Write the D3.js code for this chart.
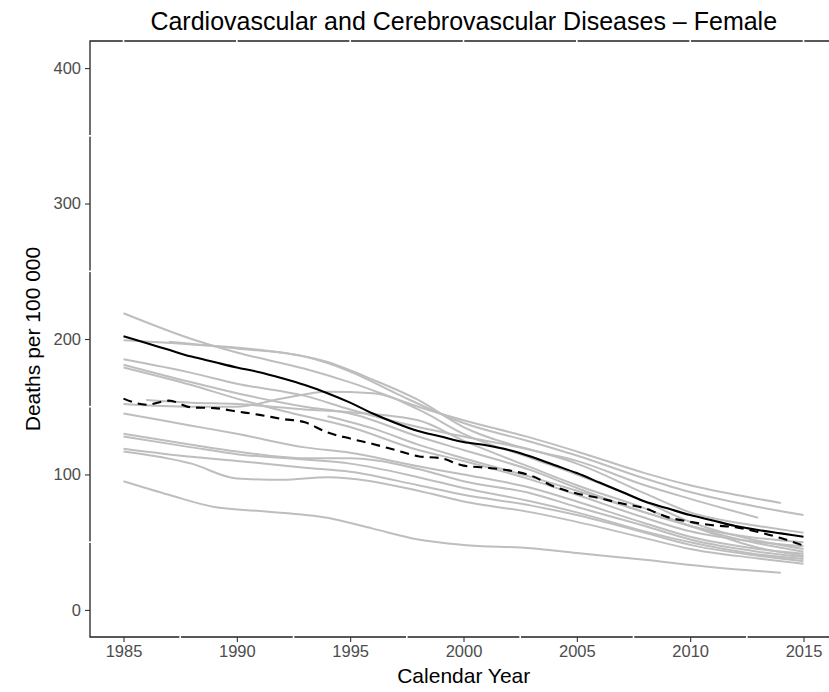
<!DOCTYPE html>
<html lang="en">
<head>
    <meta charset="UTF-8">
    <title>Cardiovascular and Cerebrovascular Diseases - Female</title>
    <script src="https://cdnjs.cloudflare.com/ajax/libs/d3/7.8.5/d3.min.js"></script>
    <style>
        body {
            margin: 0;
            background: white;
            font-family: 'Liberation Sans', Arial, Helvetica, sans-serif;
        }
        .tick text {
            font-size: 16.5px;
            fill: #4d4d4d;
        }
        .tick line {
            stroke: #333;
            stroke-width: 1.1px;
        }
        .grey-line {
            fill: none;
            stroke: #bebebe;
            stroke-width: 2px;
        }
    </style>
</head>
<body>
    <div id="chart"></div>

    <script>
        // one array per country: [year, deaths per 100 000]
        const line01 = [[1985, 219], [1988, 200], [1990, 190], [1993, 178], [1995, 168], [1998, 150], [2000, 140], [2003, 127], [2005, 117], [2008, 101], [2010, 92], [2012, 85], [2014, 79]];
        const line02 = [[1987, 198], [1990, 193], [1993, 187], [1995, 176], [1997, 160], [2000, 138], [2003, 124], [2005, 114], [2008, 97], [2010, 87], [2013, 76], [2015, 70]];
        const line03 = [[1985, 199], [1988, 196], [1991, 192], [1994, 183], [1996, 170], [1998, 155], [2000, 135], [2003, 118], [2005, 110], [2008, 92], [2010, 82], [2013, 68]];
        const line04 = [[1985, 185], [1988, 175], [1990, 167], [1993, 158], [1995, 148], [1998, 135], [2000, 128], [2003, 118], [2005, 108], [2008, 86], [2010, 72], [2013, 62], [2015, 57]];
        const line05 = [[1985, 181], [1988, 168], [1990, 160], [1993, 150], [1995, 145], [1998, 128], [2000, 118], [2003, 103], [2005, 90], [2008, 72], [2010, 62], [2013, 53], [2015, 50]];
        const line06 = [[1985, 179], [1988, 166], [1990, 156], [1992, 147], [1995, 135], [1998, 118], [2000, 110], [2003, 96], [2005, 85], [2008, 68], [2010, 58], [2013, 50], [2015, 47]];
        const line07 = [[1985, 152], [1988, 150], [1990, 150], [1992, 156], [1994, 161], [1996, 160], [1998, 148], [2000, 130], [2003, 112], [2005, 100], [2008, 80], [2010, 65], [2013, 51], [2015, 45]];
        const line08 = [[1986, 155], [1988, 153], [1990, 152], [1993, 148], [1995, 146], [1998, 140], [2000, 125], [2003, 105], [2005, 92], [2008, 75], [2010, 62], [2013, 49], [2015, 43]];
        const line09 = [[1985, 145], [1988, 136], [1990, 130], [1993, 120], [1995, 116], [1998, 106], [2000, 100], [2003, 90], [2005, 80], [2008, 64], [2010, 54], [2013, 45], [2015, 41.5]];
        const line10 = [[1994, 143], [1996, 134], [1998, 122], [2000, 112], [2003, 98], [2005, 88], [2008, 72], [2010, 62], [2013, 46], [2015, 40]];
        const line11 = [[1985, 130], [1988, 122], [1990, 117], [1993, 112], [1995, 112], [1998, 104], [2000, 95], [2003, 86], [2005, 76], [2008, 62], [2010, 52], [2013, 43], [2015, 39]];
        const line12 = [[1985, 128], [1988, 120], [1990, 115], [1993, 111], [1995, 108], [1998, 98], [2000, 90], [2003, 80], [2005, 72], [2008, 58], [2010, 50], [2013, 41], [2015, 37.5]];
        const line13 = [[1985, 119], [1988, 113], [1990, 110], [1993, 105], [1995, 102], [1998, 92], [2000, 85], [2003, 77], [2005, 70], [2008, 57], [2010, 48], [2013, 40], [2015, 36]];
        const line14 = [[1985, 117], [1988, 108], [1990, 97], [1992, 96], [1994, 98], [1998, 88], [2000, 80], [2003, 72], [2005, 65], [2008, 53], [2010, 45], [2013, 38], [2015, 34]];
        const line15 = [[1985, 95], [1987, 85], [1989, 76], [1991, 73], [1994, 68], [1996, 60], [1998, 52], [2000, 48], [2003, 45.5], [2005, 42], [2008, 37], [2011, 31.5], [2014, 27.5]];
        const greyLines = [line01, line02, line03, line04, line05, line06, line07, line08, line09, line10, line11, line12, line13, line14, line15];

        const years = [1985, 1986, 1987, 1988, 1989, 1990, 1991, 1992, 1993, 1994, 1995, 1996, 1997, 1998, 1999, 2000,
                       2001, 2002, 2003, 2004, 2005, 2006, 2007, 2008, 2009, 2010, 2011, 2012, 2013, 2014, 2015];
        const solidValues = [202, 197, 192, 187, 183, 179, 175.5, 171, 166, 160, 153, 145, 138, 132, 128, 124,
                             121.5, 118, 113, 107, 101, 94, 87, 80, 75, 70, 66, 62, 59, 56.5, 54];
        const dashedValues = [156, 151.5, 154.5, 149.5, 149, 146.5, 144, 141, 138.5, 131, 126.5, 122.5, 118, 113.5, 112, 106.5,
                              105, 103, 99, 91, 86, 82.5, 78.5, 75, 68.5, 65, 62.5, 61, 57.5, 53, 47.5];

        const xTicks = [1985, 1990, 1995, 2000, 2005, 2010, 2015];
        const yTicks = [0, 100, 200, 300, 400];
        const xMinor = [1987.5, 1992.5, 1997.5, 2002.5, 2007.5, 2012.5];
        const yMinor = [50, 150, 250, 350];

        const W = 829, H = 692;
        const pLeft = 90, pTop = 41, pBottom = 637, pRight = 837.5;

        const svg = d3.select("#chart").append("svg")
            .attr("width", W)
            .attr("height", H);

        const x = d3.scaleLinear().domain([1983.5, 2016.5]).range([89.5, pRight]);
        const y = d3.scaleLinear().domain([-20, 420]).range([pBottom, pTop]);

        const line = d3.line()
            .x(d => x(d[0]))
            .y(d => y(d[1]))
            .curve(d3.curveMonotoneX);

        svg.append("g")
            .selectAll("path")
            .data(greyLines)
            .join("path")
            .attr("class", "grey-line")
            .attr("d", line);

        const solid = years.map((yr, i) => [yr, solidValues[i]]);
        const dashed = years.map((yr, i) => [yr, dashedValues[i]]);

        svg.append("path")
            .datum(dashed)
            .attr("fill", "none")
            .attr("stroke", "#000")
            .attr("stroke-width", 2.1)
            .attr("stroke-dasharray", "9,6")
            .attr("d", line);

        svg.append("path")
            .datum(solid)
            .attr("fill", "none")
            .attr("stroke", "#000")
            .attr("stroke-width", 2.1)
            .attr("d", line);

        // panel border (left, bottom and top visible)
        svg.append("path")
            .attr("fill", "none")
            .attr("stroke", "#222")
            .attr("stroke-width", 1.3)
            .attr("d", `M${W + 2},${pTop}H${pLeft}V${pBottom}H${W + 2}`);

        // small white breaks in the frame like in the original render
        svg.append("g").selectAll("rect")
            .data(xMinor)
            .join("rect")
            .attr("x", d => x(d) - 0.8)
            .attr("y", pBottom - 1)
            .attr("width", 1.6)
            .attr("height", 2)
            .attr("fill", "white");
        svg.append("g").selectAll("rect")
            .data(xTicks)
            .join("rect")
            .attr("x", d => x(d) - 0.8)
            .attr("y", pTop - 1)
            .attr("width", 1.6)
            .attr("height", 2)
            .attr("fill", "white");
        svg.append("g").selectAll("rect")
            .data(yMinor)
            .join("rect")
            .attr("x", pLeft - 1)
            .attr("y", d => y(d) - 0.8)
            .attr("width", 2)
            .attr("height", 1.6)
            .attr("fill", "white");

        const xAxis = svg.append("g")
            .attr("transform", `translate(0,${pBottom})`)
            .call(d3.axisBottom(x).tickValues(xTicks).tickFormat(d3.format("d")).tickSize(5).tickPadding(3));
        xAxis.select(".domain").remove();

        const yAxis = svg.append("g")
            .attr("transform", `translate(${pLeft},0)`)
            .call(d3.axisLeft(y).tickValues(yTicks).tickSize(5).tickPadding(4));
        yAxis.select(".domain").remove();

        svg.append("text")
            .attr("x", (pLeft + pRight) / 2)
            .attr("y", 30)
            .attr("text-anchor", "middle")
            .attr("font-size", 25)
            .attr("fill", "#000")
            .text("Cardiovascular and Cerebrovascular Diseases – Female");

        svg.append("text")
            .attr("x", (pLeft + pRight) / 2)
            .attr("y", 683)
            .attr("text-anchor", "middle")
            .attr("font-size", 21)
            .attr("fill", "#000")
            .text("Calendar Year");

        svg.append("text")
            .attr("transform", `translate(40,${(pTop + pBottom) / 2})rotate(-90)`)
            .attr("text-anchor", "middle")
            .attr("font-size", 21)
            .attr("fill", "#000")
            .text("Deaths per 100 000");
    </script>
</body>
</html>
